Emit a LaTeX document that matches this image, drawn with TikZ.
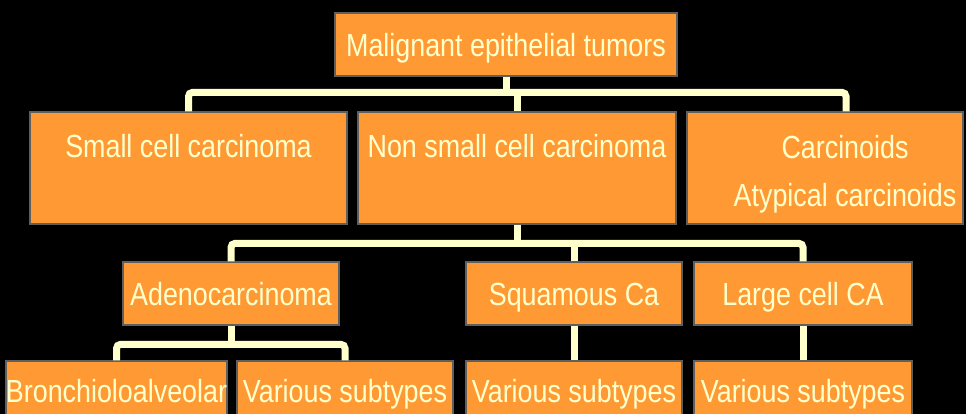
\documentclass[tikz,border=0pt]{standalone}
\usepackage{fontspec}
\setmainfont{Liberation Sans}[FakeStretch=0.84]
\usepackage{tikz}
\usetikzlibrary{positioning}
\definecolor{boxfill}{HTML}{FF9933}
\definecolor{pale}{HTML}{FFFFCC}
\definecolor{rim}{HTML}{5F5F5F}

\begin{document}
\begin{tikzpicture}[x=1pt,y=-1pt]
\tikzstyle{block} = [rectangle, draw=rim, line width=1.2pt, fill=boxfill, text=pale, inner sep=0pt, font=\fontsize{32}{48}\selectfont]
\tikzstyle{short} = [block, text height=43pt, text depth=20pt]
\tikzstyle{tall} = [block, text height=46pt, text depth=66pt]
\tikzstyle{leaf} = [block, text height=41pt, text depth=22pt]
\tikzstyle{line} = [draw=pale, line width=7pt, rounded corners=4pt]

\fill[black] (0,0) rectangle (966,414);
\useasboundingbox (0,0) rectangle (966,414);

	% level 1
	\node [short, minimum width=342pt, text height=44pt, text depth=19pt] (malig) at (506,44.5) {Malignant epithelial tumors};
	% level 2
	\node [tall, minimum width=317pt] (small) at (188.5,168) {Small cell carcinoma};
	\node [tall, minimum width=318pt] (nonsmall) at (517,168) {Non small cell carcinoma};
	\node [tall, minimum width=276pt] (carci) at (825,168) {};
	\node [text=pale, inner sep=0pt, align=center, font=\fontsize{32}{48}\selectfont] (carcitxt) at (845,174) {Carcinoids\\Atypical carcinoids};
	% level 3
	\node [short, minimum width=216pt] (adeno) at (231,293.5) {Adenocarcinoma};
	\node [short, minimum width=216pt] (squam) at (574,293.5) {Squamous Ca};
	\node [short, minimum width=218pt] (large) at (803,293.5) {Large cell CA};
	% level 4
	\node [leaf, minimum width=217pt] (bronch) at (116.5,392.5) {Bronchioloalveolar};
	\node [leaf, minimum width=216pt] (varadeno) at (345,392.5) {Various subtypes};
	\node [leaf, minimum width=216pt] (varsquam) at (574,392.5) {Various subtypes};
	\node [leaf, minimum width=218pt] (varlarge) at (803,392.5) {Various subtypes};

\tikzstyle{every path}=[line]
	\path (malig.south) -- ++(0,17);
	\path (small.north) -- ++(0,-19) -| ([xshift=21pt]carci.north);
	\path (nonsmall.north) -- ++(0,-19);
	\path (nonsmall.south) -- ++(0,20);
	\path (adeno.north) -- ++(0,-18) -| (large.north);
	\path (squam.north) -- ++(0,-18);
	\path (adeno.south) -- ++(0,20);
	\path (bronch.north) -- ++(0,-16) -| (varadeno.north);
	\path (squam.south) -- (varsquam.north);
	\path (large.south) -- (varlarge.north);
\end{tikzpicture}
\end{document}
